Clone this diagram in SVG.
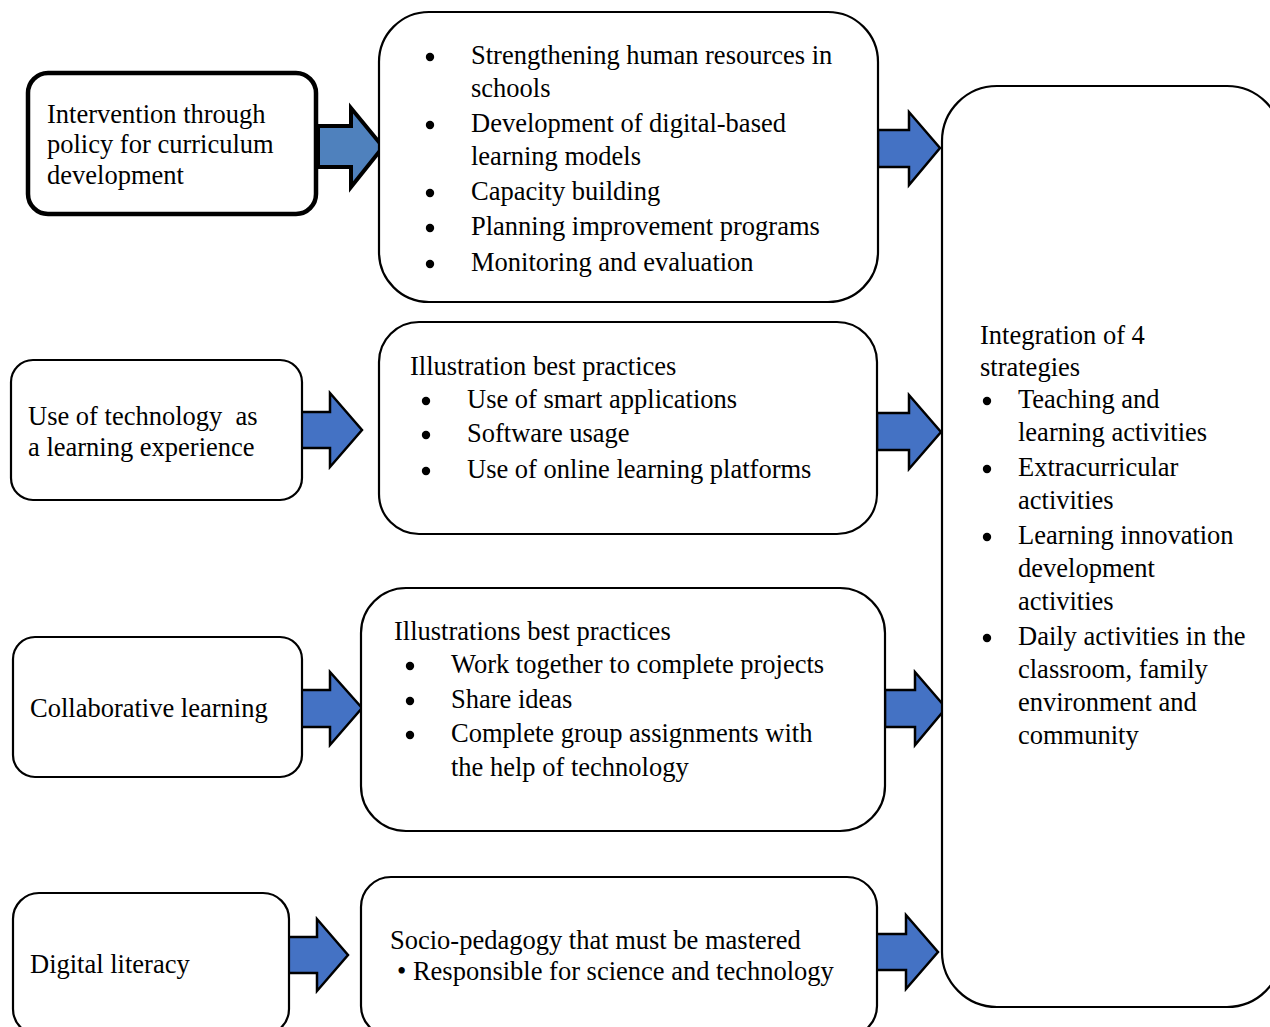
<svg xmlns="http://www.w3.org/2000/svg" width="1270" height="1027" viewBox="0 0 1270 1027">
  <style>
    .box { fill: #ffffff; stroke: #000000; stroke-width: 2.2; }
    .box-strong { fill: #ffffff; stroke: #000000; stroke-width: 4.5; }
    .arrow { fill: #4472C4; stroke: #000000; stroke-width: 2.5; stroke-linejoin: miter; }
    .arrow-strong { fill: #4F81BD; stroke: #000000; stroke-width: 4; stroke-linejoin: miter; }
    text { font-family: "Liberation Serif", "Times New Roman", serif; font-size: 26.5px; fill: #000000; }
    .dot { fill: #000000; }
  </style>

  <!-- block arrows between columns -->
  <g id="connectors">
    <polygon class="arrow-strong" points="318,126 351,126 351,108 383,147 351,187 351,167 318,167"/>
    <polygon class="arrow" points="878,130 909,130 909,112 940,148 909,185 909,167 878,167"/>
    <polygon class="arrow" points="300,412 330,412 330,393 362,430 330,467 330,448 300,448"/>
    <polygon class="arrow" points="877,413 909,413 909,395 941,432 909,469 909,450 877,450"/>
    <polygon class="arrow" points="300,690 330,690 330,672 362,708 330,745 330,727 300,727"/>
    <polygon class="arrow" points="885,690 915,690 915,672 946,708 915,745 915,727 885,727"/>
    <polygon class="arrow" points="287,937 317,937 317,919 348,955 317,991 317,973 287,973"/>
    <polygon class="arrow" points="876,934 906,934 906,915 938,952 906,989 906,970 876,970"/>
  </g>

  <!-- row 1: policy intervention -->
  <g id="node-policy">
    <rect class="box-strong" x="28" y="73" width="288" height="141" rx="20"/>
    <text x="47" y="123">Intervention through</text>
    <text x="47" y="153">policy for curriculum</text>
    <text x="47" y="184">development</text>
  </g>

  <g id="node-policy-actions">
    <rect class="box" x="379" y="12" width="499" height="290" rx="50"/>
    <circle class="dot" cx="430" cy="57" r="4.2"/>
    <text x="471" y="64">Strengthening human resources in</text>
    <text x="471" y="97">schools</text>
    <circle class="dot" cx="430" cy="125" r="4.2"/>
    <text x="471" y="132">Development of digital-based</text>
    <text x="471" y="165">learning models</text>
    <circle class="dot" cx="430" cy="193" r="4.2"/>
    <text x="471" y="200">Capacity building</text>
    <circle class="dot" cx="430" cy="228" r="4.2"/>
    <text x="471" y="235">Planning improvement programs</text>
    <circle class="dot" cx="430" cy="264" r="4.2"/>
    <text x="471" y="271">Monitoring and evaluation</text>
  </g>

  <!-- row 2: technology -->
  <g id="node-technology">
    <rect class="box" x="11" y="360" width="291" height="140" rx="22"/>
    <text x="28" y="425" xml:space="preserve">Use of technology  as</text>
    <text x="28" y="456">a learning experience</text>
  </g>

  <g id="node-technology-practices">
    <rect class="box" x="379" y="322" width="498" height="212" rx="40"/>
    <text x="410" y="375">Illustration best practices</text>
    <circle class="dot" cx="426" cy="401" r="4.2"/>
    <text x="467" y="408">Use of smart applications</text>
    <circle class="dot" cx="426" cy="435" r="4.2"/>
    <text x="467" y="442">Software usage</text>
    <circle class="dot" cx="426" cy="471" r="4.2"/>
    <text x="467" y="478">Use of online learning platforms</text>
  </g>

  <!-- row 3: collaboration -->
  <g id="node-collaborative">
    <rect class="box" x="13" y="637" width="289" height="140" rx="22"/>
    <text x="30" y="717">Collaborative learning</text>
  </g>

  <g id="node-collaborative-practices">
    <rect class="box" x="361" y="588" width="524" height="243" rx="45"/>
    <text x="394" y="640">Illustrations best practices</text>
    <circle class="dot" cx="410" cy="666" r="4.2"/>
    <text x="451" y="673">Work together to complete projects</text>
    <circle class="dot" cx="410" cy="701" r="4.2"/>
    <text x="451" y="708">Share ideas</text>
    <circle class="dot" cx="410" cy="735" r="4.2"/>
    <text x="451" y="742">Complete group assignments with</text>
    <text x="451" y="776">the help of technology</text>
  </g>

  <!-- row 4: digital literacy -->
  <g id="node-literacy">
    <rect class="box" x="13" y="893" width="276" height="142" rx="26"/>
    <text x="30" y="973">Digital literacy</text>
  </g>

  <g id="node-literacy-pedagogy">
    <rect class="box" x="361" y="877" width="516" height="159" rx="30"/>
    <text x="390" y="949">Socio-pedagogy that must be mastered</text>
    <text x="397" y="980">• Responsible for science and technology</text>
  </g>

  <!-- combined outcome -->
  <g id="node-integration">
    <rect class="box" x="942" y="86" width="340" height="921" rx="55"/>
    <text x="980" y="344">Integration of 4</text>
    <text x="980" y="376">strategies</text>
    <circle class="dot" cx="987" cy="401" r="4.2"/>
    <text x="1018" y="408">Teaching and</text>
    <text x="1018" y="441">learning activities</text>
    <circle class="dot" cx="987" cy="469" r="4.2"/>
    <text x="1018" y="476">Extracurricular</text>
    <text x="1018" y="509">activities</text>
    <circle class="dot" cx="987" cy="537" r="4.2"/>
    <text x="1018" y="544">Learning innovation</text>
    <text x="1018" y="577">development</text>
    <text x="1018" y="610">activities</text>
    <circle class="dot" cx="987" cy="638" r="4.2"/>
    <text x="1018" y="645">Daily activities in the</text>
    <text x="1018" y="678">classroom, family</text>
    <text x="1018" y="711">environment and</text>
    <text x="1018" y="744">community</text>
  </g>
</svg>
